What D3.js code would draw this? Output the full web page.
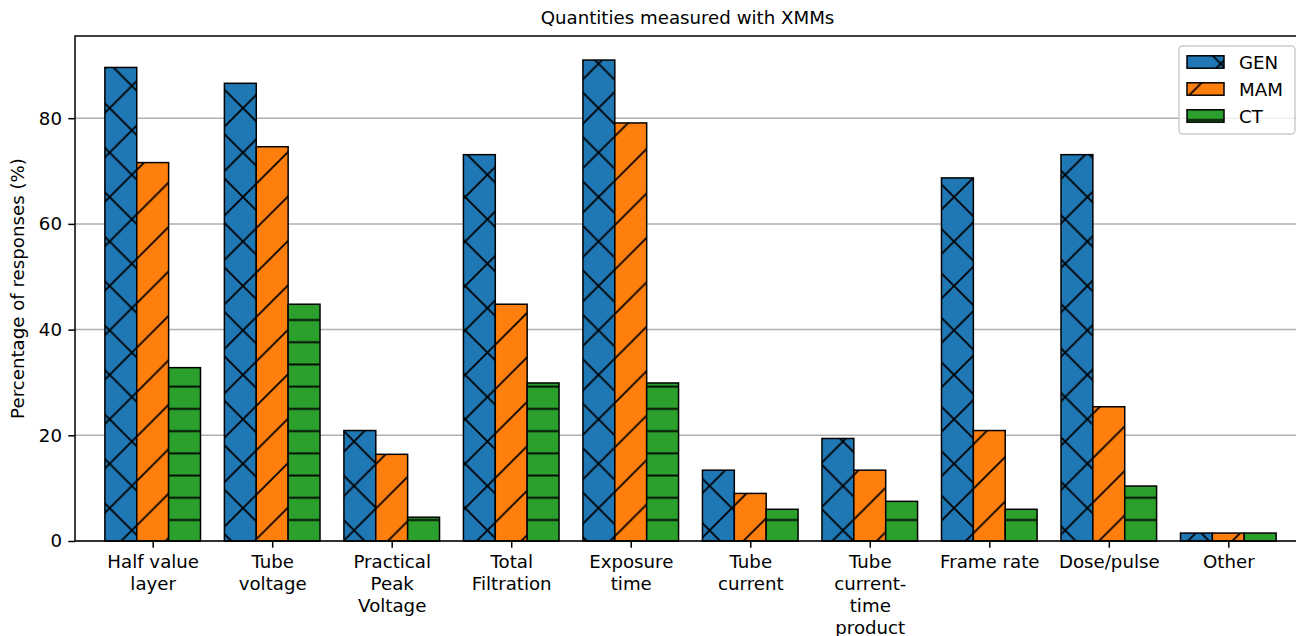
<!DOCTYPE html>
<html>
<head>
<meta charset="utf-8">
<script src="https://cdn.jsdelivr.net/npm/d3@7"></script>
<style>
  html, body { margin: 0; padding: 0; background: #fff; }
  svg { display: block; font-family: "DejaVu Sans", sans-serif; }
</style>
</head>
<body>
<svg id="chart" width="1296" height="636"></svg>
<script>
// data
const categories = ["Half value\nlayer", "Tube\nvoltage", "Practical\nPeak\nVoltage", "Total\nFiltration",
  "Exposure\ntime", "Tube\ncurrent", "Tube\ncurrent-\ntime\nproduct", "Frame rate", "Dose/pulse", "Other"];
const series = ["GEN", "MAM", "CT"];
const gen = [89.6, 86.6, 20.9, 73.1, 91.0, 13.4, 19.4, 68.7, 73.1, 1.5];
const mam = [71.6, 74.6, 16.4, 44.8, 79.1, 9.0, 13.4, 20.9, 25.4, 1.5];
const ct  = [32.8, 44.8, 4.5, 29.9, 29.9, 6.0, 7.5, 6.0, 10.4, 1.5];
const yTicks = [0, 20, 40, 60, 80];
const colors = ["#1f77b4", "#ff7f0e", "#2ca02c"];

const values = [gen, mam, ct];
const axL = 75, axR = 1306, axT = 36, axB = 541;
const fs = 18.2;

const svg = d3.select("#chart");

const x = d3.scaleLinear().domain([-0.65, 9.65]).range([axL, axR]);
const ymax = d3.max(values.flat()) * 1.05;
const y = d3.scaleLinear().domain([0, ymax]).range([axB, axT]);
const bw = 0.8 / 3;

// hatch patterns (phase fixed in page space like matplotlib)
const step = 133.33 / 6, P = step * 2;
const defs = svg.append("defs");
function pat(id, color, w, h, tr, paths) {
  const p = defs.append("pattern").attr("id", id)
    .attr("patternUnits", "userSpaceOnUse")
    .attr("width", w).attr("height", h)
    .attr("patternTransform", tr);
  p.append("rect").attr("width", w).attr("height", h).attr("fill", color);
  p.append("path").attr("d", paths).attr("stroke", "#000")
    .attr("stroke-width", 1.8).attr("fill", "none");
}
const ne = `M${-P},${P}L${P},${-P}M0,${P}L${P},0M0,${2*P}L${2*P},0`;
const se = `M0,0L${P},${P}M${-P},0L${P},${2*P}M0,${-P}L${2*P},${P}`;
pat("h0", colors[0], P, P, "translate(20.75,19.25)", ne + se);
pat("h1", colors[1], P, P, "translate(40,0)", ne);
pat("h2", colors[2], 20, step, `translate(0,${8.9 - step / 2})`, `M-5,${step/2}L25,${step/2}`);

// grid
svg.append("g").selectAll("line").data(yTicks).join("line")
  .attr("x1", axL).attr("x2", axR)
  .attr("y1", d => y(d)).attr("y2", d => y(d))
  .attr("stroke", "#b0b0b0").attr("stroke-width", 1.5);

// bars
series.forEach((s, si) => {
  svg.append("g").selectAll("rect").data(values[si]).join("rect")
    .attr("x", (d, i) => x(i + (si - 1) * bw - bw / 2))
    .attr("width", x(bw) - x(0))
    .attr("y", d => y(d))
    .attr("height", d => y(0) - y(d))
    .attr("fill", `url(#h${si})`)
    .attr("stroke", "#000").attr("stroke-width", 1.5);
});

// spines
svg.append("path")
  .attr("d", `M${axL},${axB}L${axL},${axT}L${axR},${axT}L${axR},${axB}Z`)
  .attr("fill", "none").attr("stroke", "#000").attr("stroke-width", 1.5);

// y axis
const yAxis = svg.append("g").attr("transform", `translate(${axL},0)`)
  .call(d3.axisLeft(y).tickValues(yTicks).tickSize(6.7).tickPadding(6.3).tickSizeOuter(0));
yAxis.select(".domain").remove();
yAxis.selectAll(".tick line").attr("stroke-width", 1.5);
yAxis.selectAll(".tick text").attr("font-size", fs).attr("font-family", "DejaVu Sans").attr("fill", "#000");

// x axis
const xAxis = svg.append("g").attr("transform", `translate(0,${axB})`)
  .call(d3.axisBottom(x).tickValues(d3.range(categories.length)).tickSize(6.7).tickSizeOuter(0).tickFormat(""));
xAxis.select(".domain").remove();
xAxis.selectAll(".tick line").attr("stroke-width", 1.5);
xAxis.selectAll(".tick").each(function(d) {
  const t = d3.select(this).append("text")
    .attr("text-anchor", "middle").attr("font-size", fs)
    .attr("font-family", "DejaVu Sans").attr("fill", "#000");
  categories[d].split("\n").forEach((line, k) => {
    t.append("tspan").attr("x", 0).attr("y", 26.8 + k * 22).text(line);
  });
});

// title and y label
svg.append("text").attr("x", (axL + axR) / 2 - 3).attr("y", 24)
  .attr("text-anchor", "middle").attr("font-size", fs).attr("fill", "#000")
  .text("Quantities measured with XMMs");
svg.append("text")
  .attr("transform", `translate(24,${(axT + axB) / 2}) rotate(-90)`)
  .attr("text-anchor", "middle").attr("font-size", fs).attr("fill", "#000")
  .text("Percentage of responses (%)");

// legend
const lg = svg.append("g");
lg.append("rect").attr("x", 1179).attr("y", 46).attr("width", 116).attr("height", 88)
  .attr("rx", 3.7).attr("fill", "#fff").attr("fill-opacity", 0.8)
  .attr("stroke", "#cccccc").attr("stroke-width", 1.5);
series.forEach((s, si) => {
  const cy = 62 + si * 27;
  lg.append("rect").attr("x", 1187).attr("y", cy - 6.2).attr("width", 37).attr("height", 12.4)
    .attr("fill", `url(#h${si})`).attr("stroke", "#000").attr("stroke-width", 1.5);
  lg.append("text").attr("x", 1239).attr("y", cy + 6.5)
    .attr("font-size", fs).attr("fill", "#000").text(s);
});
</script>
</body>
</html>
